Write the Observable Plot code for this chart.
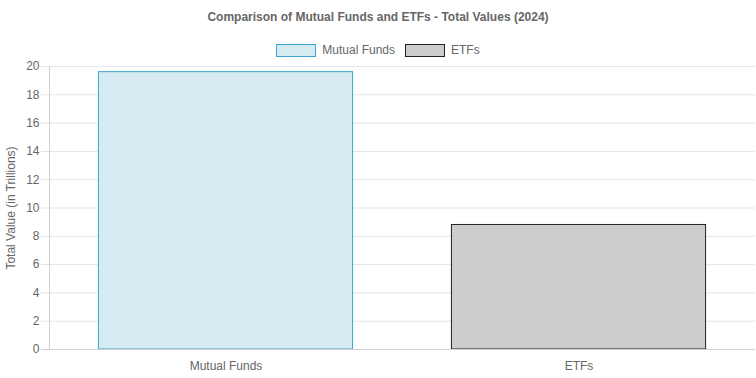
<!DOCTYPE html>
<html><head><meta charset="utf-8">
<script src="https://cdn.jsdelivr.net/npm/d3@7"></script>
<script src="https://cdn.jsdelivr.net/npm/@observablehq/plot@0.6"></script>
<style>
body{margin:0;background:#fff;font-family:"Liberation Sans",Arial,sans-serif;}
#wrap{position:relative;width:756px;height:378px;}
#title{position:absolute;top:0;left:0;width:756px;height:34px;line-height:34px;text-align:center;font-weight:bold;font-size:12px;color:#666;}
#legend{position:absolute;top:40px;left:0;width:756px;height:20px;display:flex;justify-content:center;align-items:center;font-size:12px;color:#666;}
.item{display:flex;align-items:center;margin:0 5px;}
.box{width:40px;height:13px;box-sizing:border-box;border:1px solid;margin-right:6px;}
#chart{position:absolute;top:58px;left:0;}
</style></head>
<body><div id="wrap"><div id="title"></div><div id="legend"></div><div id="chart"></div></div>
<script>
const title = "Comparison of Mutual Funds and ETFs - Total Values (2024)";
const categories = ["Mutual Funds", "ETFs"];
const values = [19.6, 8.8];
const fills = ["#d6eaf1", "#cccccc"];
const strokes = ["#3aa4d0", "#222222"];
const yTicks = [0, 2, 4, 6, 8, 10, 12, 14, 16, 18, 20];
const yLabel = "Total Value (in Trillions)";

document.getElementById("title").textContent = title;
const legend = document.getElementById("legend");
categories.forEach((c, i) => {
  const it = document.createElement("div"); it.className = "item";
  const b = document.createElement("div"); b.className = "box";
  b.style.background = fills[i]; b.style.borderColor = strokes[i];
  const t = document.createElement("span"); t.textContent = c;
  it.appendChild(b); it.appendChild(t); legend.appendChild(it);
});

const data = categories.map((c, i) => ({category: c, value: values[i], fill: fills[i], stroke: strokes[i]}));

const chart = Plot.plot({
  width: 756, height: 320,
  marginTop: 8, marginBottom: 29, marginLeft: 49, marginRight: 1,
  style: {fontFamily: '"Liberation Sans", Arial, sans-serif', fontSize: "12px", color: "#666", background: "white"},
  x: {domain: categories, paddingInner: 0.28, paddingOuter: 0.14, round: false, label: null},
  y: {domain: [0, 20], label: yLabel},
  color: {type: "identity"},
  marks: [
    Plot.ruleY(yTicks, {stroke: "#e5e5e5", insetLeft: -8}),
    Plot.barY(data, {x: "category", y: "value", fill: "fill", stroke: "stroke", strokeWidth: 1}),
    Plot.ruleY([0], {stroke: "#d0d0d0", insetLeft: -8}),
    Plot.frame({anchor: "left", stroke: "#d0d0d0"}),
    Plot.axisY({ticks: yTicks, tickSize: 0, tickPadding: 10, fill: "#666", label: yLabel, labelAnchor: "center", labelArrow: "none", labelOffset: 43}),
    Plot.axisX({tickSize: 0, tickPadding: 12, fill: "#666", label: null})
  ]
});
document.getElementById("chart").appendChild(chart);
</script></body></html>
